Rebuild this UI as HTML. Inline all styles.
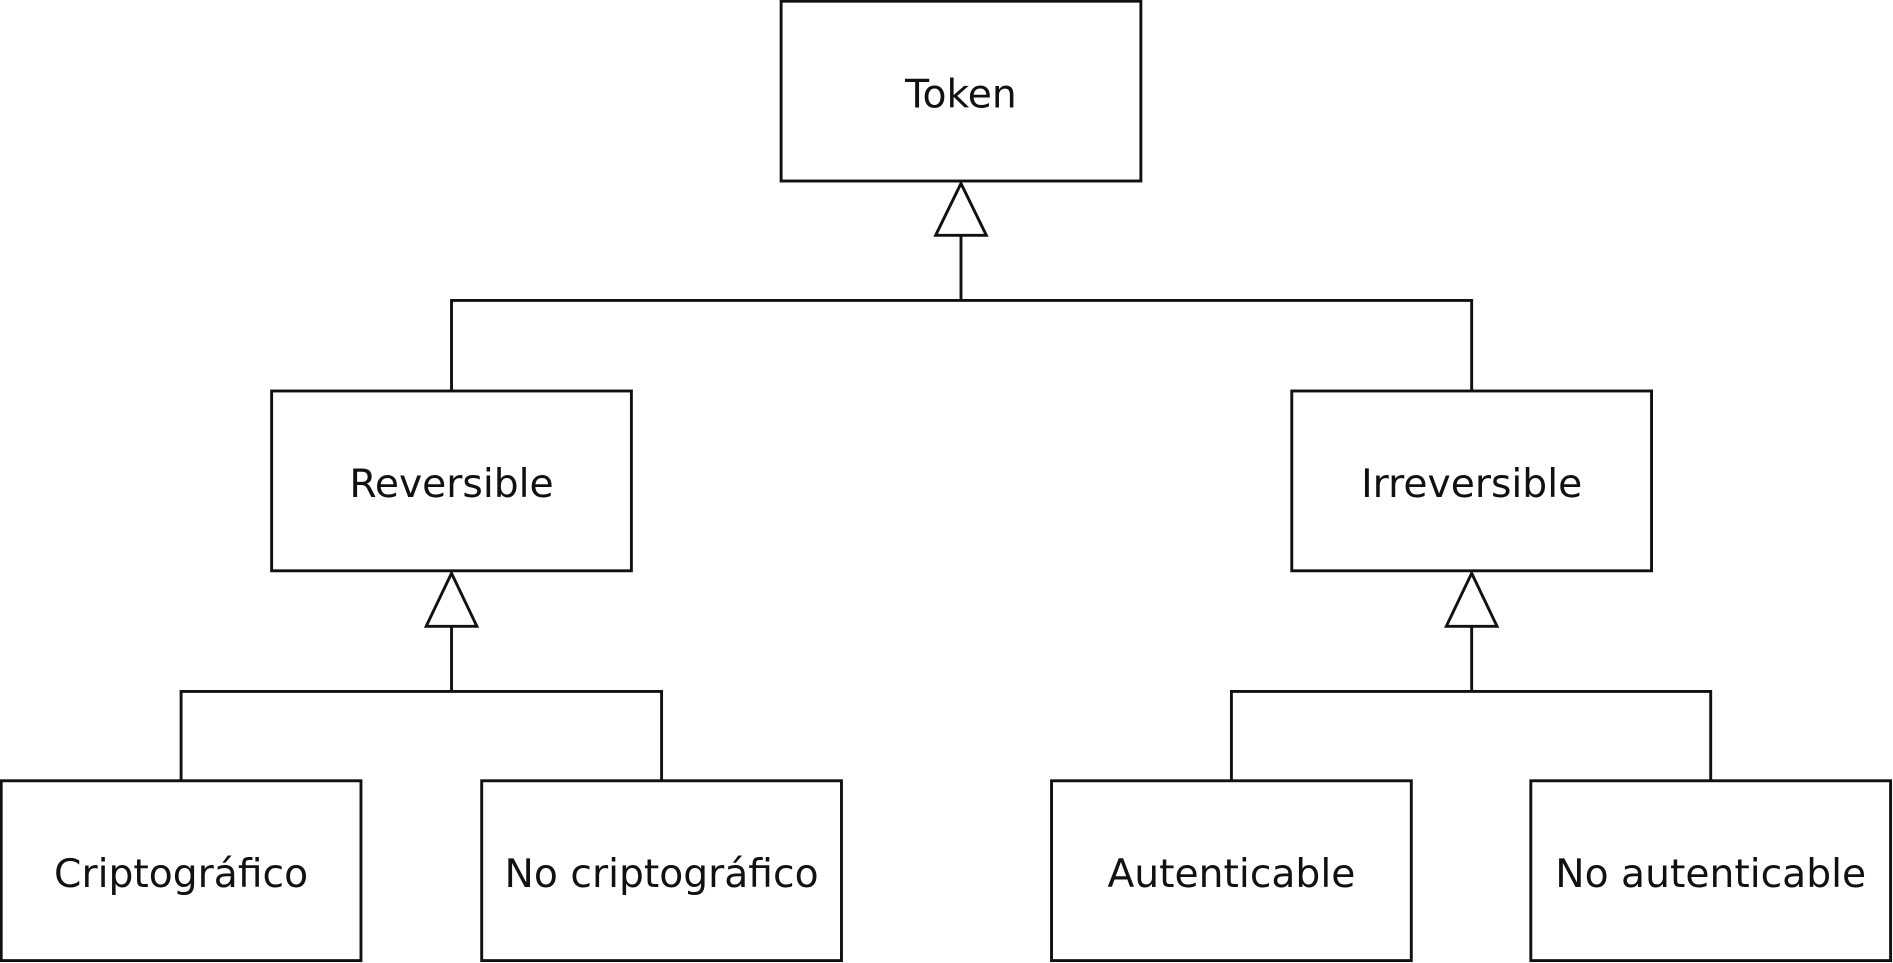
<!DOCTYPE html>
<html><head><meta charset="utf-8"><style>
html,body{margin:0;padding:0;background:#fff;width:1893px;height:963px;overflow:hidden}
svg{display:block}
text{font-family:"DejaVu Sans","Liberation Sans",sans-serif;font-size:32.5px;fill:#111}
</style></head><body>
<svg width="1893" height="963" viewBox="0 0 1568 798" preserveAspectRatio="none">
<g fill="#fff" stroke="#111" stroke-width="2.4">
<rect x="647" y="1" width="298" height="149"/>
<rect x="225" y="324" width="298" height="149"/>
<rect x="1070" y="324" width="298" height="149"/>
<rect x="1" y="647" width="298" height="149"/>
<rect x="399" y="647" width="298" height="149"/>
<rect x="871" y="647" width="298" height="149"/>
<rect x="1268" y="647" width="298" height="149"/>
<polyline fill="none" points="374,324 374,249 1219,249 1219,324"/>
<line x1="796" y1="249" x2="796" y2="195"/>
<polygon points="796,152 775,195 817,195"/>
<polyline fill="none" points="150,647 150,573 548,573 548,647"/>
<line x1="374" y1="573" x2="374" y2="519"/>
<polygon points="374,475 353,519 395,519"/>
<polyline fill="none" points="1020,647 1020,573 1417,573 1417,647"/>
<line x1="1219" y1="573" x2="1219" y2="519"/>
<polygon points="1219,475 1198,519 1240,519"/>
</g>
<g text-anchor="middle">
<text x="796" y="89">Token</text>
<text x="374" y="412">Reversible</text>
<text x="1219" y="412">Irreversible</text>
<text x="150" y="735">Criptográfico</text>
<text x="548" y="735">No criptográfico</text>
<text x="1020" y="735">Autenticable</text>
<text x="1417" y="735">No autenticable</text>
</g>
</svg>
</body></html>
